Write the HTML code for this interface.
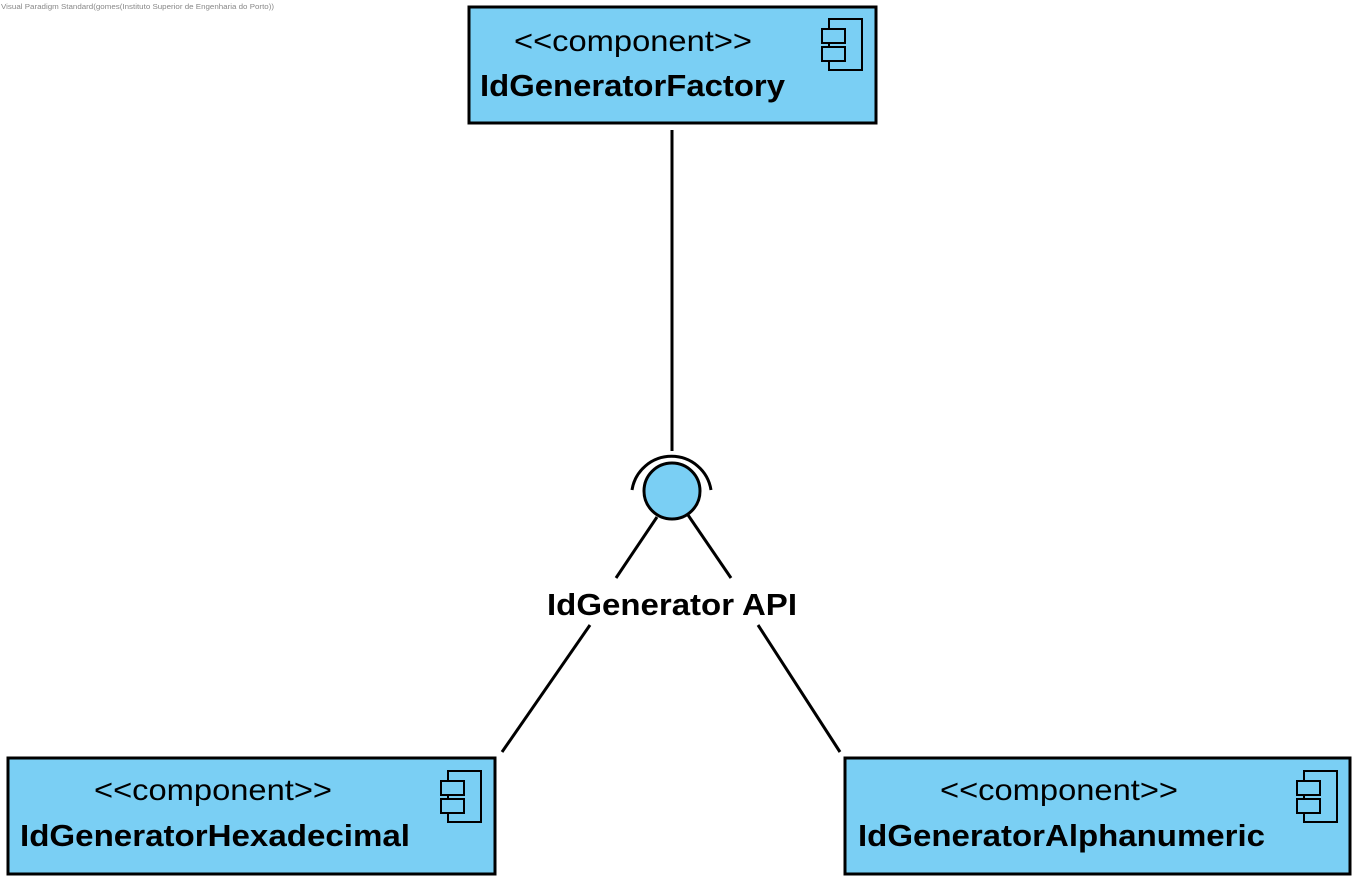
<!DOCTYPE html>
<html><head><style>body{margin:0;background:#fff}</style></head><body>
<svg width="1365" height="888" xmlns="http://www.w3.org/2000/svg" font-family="Liberation Sans, Arial, sans-serif">
<text x="1" y="9" font-size="7" fill="#888" textLength="273" lengthAdjust="spacingAndGlyphs">Visual Paradigm Standard(gomes(Instituto Superior de Engenharia do Porto))</text>
<g stroke="#000" stroke-width="3" fill="#7ACFF4">
<rect x="469" y="7" width="407" height="116"/>
<rect x="8" y="758" width="487" height="116"/>
<rect x="845" y="758" width="505" height="116"/>
</g>
<g stroke="#000" stroke-width="2" fill="#7ACFF4">
<rect x="829" y="19" width="33" height="51"/><rect x="822" y="29" width="23" height="14"/><rect x="822" y="47" width="23" height="14"/>
<rect x="448" y="771" width="33" height="51"/><rect x="441" y="781" width="23" height="14"/><rect x="441" y="799" width="23" height="14"/>
<rect x="1304" y="771" width="33" height="51"/><rect x="1297" y="781" width="23" height="14"/><rect x="1297" y="799" width="23" height="14"/>
</g>
<g font-size="30">
<text x="514" y="51" textLength="238" lengthAdjust="spacingAndGlyphs">&lt;&lt;component&gt;&gt;</text>
<text x="94" y="800" textLength="238" lengthAdjust="spacingAndGlyphs">&lt;&lt;component&gt;&gt;</text>
<text x="940" y="800" textLength="238" lengthAdjust="spacingAndGlyphs">&lt;&lt;component&gt;&gt;</text>
</g>
<g font-size="31" font-weight="bold">
<text x="480" y="96" textLength="305" lengthAdjust="spacingAndGlyphs">IdGeneratorFactory</text>
<text x="20" y="846" textLength="390" lengthAdjust="spacingAndGlyphs">IdGeneratorHexadecimal</text>
<text x="858" y="846" textLength="407" lengthAdjust="spacingAndGlyphs">IdGeneratorAlphanumeric</text>
<text x="547" y="615" textLength="250" lengthAdjust="spacingAndGlyphs">IdGenerator API</text>
</g>
<g stroke="#000" stroke-width="3" fill="none">
<line x1="672" y1="130" x2="672" y2="451"/>
<path d="M632 490 A40 40 0 0 1 711 490"/>
<line x1="657" y1="517" x2="616" y2="578"/>
<line x1="688" y1="515" x2="731" y2="578"/>
<line x1="590" y1="625" x2="502" y2="752"/>
<line x1="758" y1="625" x2="840" y2="752"/>
</g>
<circle cx="672" cy="491" r="28" fill="#7ACFF4" stroke="#000" stroke-width="3"/>
</svg>
</body></html>
